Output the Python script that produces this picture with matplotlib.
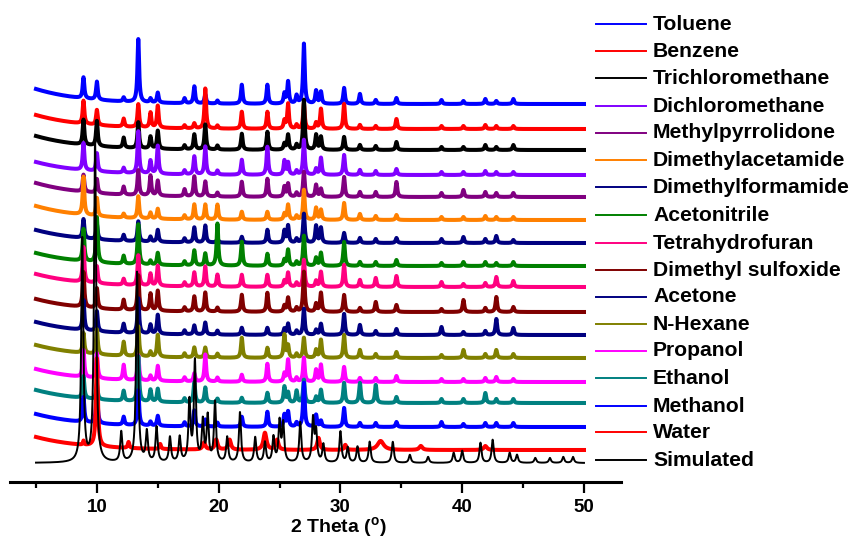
import numpy as np
import matplotlib
matplotlib.use("Agg")
import matplotlib.pyplot as plt
from matplotlib.lines import Line2D

plt.rcParams['font.family'] = ['Liberation Sans', 'DejaVu Sans']
plt.rcParams['font.weight'] = 'bold'
plt.rcParams['mathtext.fontset'] = 'custom'
plt.rcParams['mathtext.rm'] = 'Liberation Sans:bold'
plt.rcParams['mathtext.bf'] = 'Liberation Sans:bold'

# ---- reflection positions shared by the experimental patterns (2 theta, deg)
peak_pos = [8.9, 10.0, 12.2, 13.4, 14.4, 15.0, 17.2, 18.0, 18.9, 19.9, 21.9, 24.0,
            25.4, 25.7, 26.4, 27.0, 28.0, 28.4, 30.3, 31.6, 32.9, 34.6, 38.3, 40.1,
            41.9, 42.8, 44.2]

# ---- peak intensities for each solvent (same order as peak_pos)
toluene        = [21, 18, 4, 63, 4, 10, 5, 17, 9, 3, 19, 19, 10, 22, 8, 60, 13, 12, 16, 10, 4, 6, 4, 3, 5, 3, 5]
benzene        = [23, 15, 8, 23, 15, 22, 3, 5, 40, 3, 17, 17, 8, 25, 4, 25, 6, 20, 25, 4, 3, 10, 3, 3, 4, 3, 3]
trichloromethane = [25, 25, 10, 26, 12, 18, 4, 15, 25, 4, 16, 18, 6, 15, 5, 50, 15, 13, 13, 5, 4, 8, 3, 3, 5, 3, 5]
dichloromethane = [27, 18, 5, 42, 13, 28, 4, 18, 28, 4, 15, 28, 14, 12, 4, 35, 6, 17, 20, 5, 4, 6, 3, 3, 4, 3, 3]
methylpyrrolidone = [17, 14, 8, 25, 20, 15, 7, 20, 15, 4, 15, 18, 10, 13, 4, 25, 12, 8, 20, 5, 5, 15, 4, 7, 5, 4, 4]
dimethylacetamide = [38, 18, 4, 22, 6, 10, 4, 15, 15, 15, 8, 8, 6, 15, 4, 30, 12, 10, 17, 6, 4, 5, 3, 3, 4, 3, 3]
dimethylformamide = [19, 15, 6, 20, 5, 12, 4, 15, 17, 4, 6, 13, 12, 17, 4, 29, 17, 15, 10, 5, 4, 5, 4, 6, 4, 7, 3]
acetonitrile   = [32, 45, 8, 40, 4, 12, 4, 15, 12, 42, 24, 12, 6, 16, 4, 30, 8, 13, 24, 4, 4, 6, 3, 4, 4, 3, 4]
tetrahydrofuran = [35, 17, 6, 30, 12, 20, 4, 14, 20, 12, 12, 12, 6, 14, 4, 27, 6, 15, 22, 7, 9, 11, 5, 3, 4, 10, 6]
dimethyl_sulfoxide = [35, 20, 10, 35, 17, 20, 4, 15, 19, 4, 17, 19, 6, 14, 4, 40, 8, 19, 17, 4, 10, 7, 3, 12, 4, 15, 5]
acetone        = [30, 20, 9, 35, 9, 19, 4, 9, 12, 4, 7, 7, 6, 11, 4, 26, 5, 11, 21, 10, 4, 6, 8, 3, 4, 16, 7]
n_hexane       = [20, 25, 14, 30, 5, 22, 4, 10, 10, 4, 20, 10, 23, 12, 4, 20, 8, 18, 23, 8, 4, 6, 3, 8, 4, 8, 4]
propanol       = [27, 25, 15, 25, 5, 15, 4, 8, 27, 4, 7, 18, 8, 22, 4, 24, 12, 17, 15, 4, 4, 6, 3, 3, 4, 5, 3]
ethanol        = [22, 15, 10, 45, 12, 13, 4, 20, 15, 4, 5, 10, 16, 10, 12, 23, 6, 13, 20, 20, 18, 6, 4, 4, 10, 4, 4]
methanol       = [25, 33, 8, 35, 4, 10, 4, 16, 7, 4, 10, 15, 12, 15, 4, 44, 12, 6, 19, 4, 4, 5, 5, 3, 4, 4, 4]

# ---- water sample: fewer, broader reflections
water_pos   = [8.9, 10.0, 12.6, 15.2, 18.8, 19.8, 20.9, 23.8, 24.8, 28.2, 30.4, 33.3, 36.6, 41.9]
water_h     = [4, 88, 6, 5, 7, 10, 10, 17, 10, 12, 5, 9, 4, 4]
water_width = [0.10, 0.18, 0.15, 0.15, 0.25, 0.25, 0.25, 0.30, 0.25, 0.25, 0.20, 0.60, 0.30, 0.30]

# ---- pattern simulated from the single-crystal structure
sim_pos = [8.8, 9.85, 12.0, 13.3, 14.1, 14.9, 16.0, 16.8, 17.6, 18.05, 18.7, 19.1, 19.7,
           20.7, 21.75, 23.0, 23.8, 24.5, 25.0, 25.3, 26.7, 27.75, 28.0, 28.6, 30.0, 30.6,
           31.4, 32.4, 34.3, 35.7, 37.2, 39.3, 40.0, 41.5, 42.5, 43.9, 44.5, 46.0, 47.2,
           48.3, 49.1]
sim_h   = [223, 323, 30, 190, 30, 35, 25, 25, 60, 100, 40, 45, 60,
           25, 50, 25, 20, 25, 40, 38, 40, 43, 30, 18, 31, 15,
           16, 21, 21, 8, 6, 10, 12, 20, 23, 10, 8, 5, 5,
           6, 6]

# ---- stacking: series names, colours, vertical offsets and low-angle background
names = ['Toluene', 'Benzene', 'Trichloromethane', 'Dichloromethane', 'Methylpyrrolidone',
         'Dimethylacetamide', 'Dimethylformamide', 'Acetonitrile', 'Tetrahydrofuran',
         'Dimethyl sulfoxide', 'Acetone', 'N-Hexane', 'Propanol', 'Ethanol', 'Methanol',
         'Water', 'Simulated']
colors = ['#0000ff', '#ff0000', '#000000', '#8000ff', '#800080', '#ff8000', '#000080',
          '#008000', '#ff0080', '#800000', '#000080', '#808000', '#ff00ff', '#008080',
          '#0000ff', '#ff0000', '#000000']
offsets = [378, 353, 332, 307, 285, 262, 239, 216, 195, 170, 147, 124, 100, 79, 55, 32, 19]
background = [15, 14, 14, 13, 14, 14, 13, 13, 13, 13, 13, 13, 13, 13, 13, 13, 0]

crystal_sets = [toluene, benzene, trichloromethane, dichloromethane, methylpyrrolidone,
                dimethylacetamide, dimethylformamide, acetonitrile, tetrahydrofuran,
                dimethyl_sulfoxide, acetone, n_hexane, propanol, ethanol, methanol]

two_theta = np.linspace(5, 50, 4501)


def profile(pos, heights, hwhm):
    y = np.zeros_like(two_theta)
    hw = np.broadcast_to(np.asarray(hwhm, float), (len(pos),))
    for p, h, g in zip(pos, heights, hw):
        y += h * g ** 2 / ((two_theta - p) ** 2 + g ** 2)
    return y


def low_angle(amp):
    return amp * np.exp(-(two_theta - 5.0) / 4.0)


fig = plt.figure(figsize=(8.57, 5.45), dpi=100)
W, H = 857.0, 545.0
ax = fig.add_axes([10 / W, 63 / H, 611 / W, 482 / H])

curves = []
for heights in crystal_sets:
    curves.append(profile(peak_pos, heights, 0.08))
curves.append(profile(water_pos, water_h, [w / 2 for w in water_width]))
curves.append(profile(sim_pos, sim_h, 0.1))

for i, (name, col, off, bg, cur) in enumerate(zip(names, colors, offsets, background, curves)):
    lw = 1.4 if name == 'Simulated' else 2.9
    ax.plot(two_theta, cur + low_angle(bg) + off, color=col, lw=lw, zorder=2 + i,
            solid_joinstyle='round')

ax.set_xlim(2.865, 53.04)
ax.set_ylim(0, 482)
for s in ('top', 'left', 'right'):
    ax.spines[s].set_visible(False)
ax.spines['bottom'].set_linewidth(2.2)
ax.set_yticks([])
ax.set_xticks([10, 20, 30, 40, 50])
ax.set_xticks([5, 15, 25, 35, 45], minor=True)
ax.tick_params(axis='x', which='major', direction='out', length=8, width=1.6,
               labelsize=13.5, pad=4)
ax.tick_params(axis='x', which='minor', direction='out', length=4.5, width=1.6)
for lab in ax.get_xticklabels():
    lab.set_fontweight('bold')
ax.set_xlabel(r'2 Theta ($\mathbf{^{o}}$)', fontsize=14, fontweight='bold')
ax.xaxis.set_label_coords(0.538, -0.068)

# ---- legend drawn in figure pixels
legend_y = [24, 51, 78, 106, 133, 160, 187, 215, 243, 270, 297, 324, 351, 378, 406, 432, 460]
for name, col, py in zip(names, colors, legend_y):
    yf = 1 - py / H
    fig.add_artist(Line2D([596 / W, 646 / W], [yf, yf], color=col, lw=1.4,
                          transform=fig.transFigure))
    fig.text(653 / W, yf, name, fontsize=15.2, fontweight='bold', va='center',
             ha='left', color='black')

fig.savefig('out.png', dpi=100)
